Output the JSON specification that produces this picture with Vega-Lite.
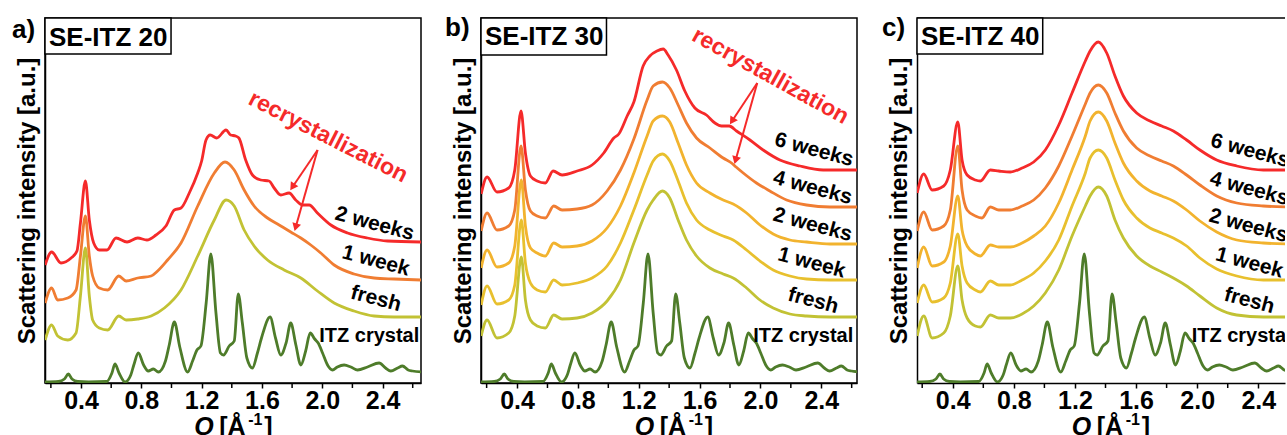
{
"$schema":"https://vega.github.io/schema/vega-lite/v6.json",
"background":"white",
"padding":{"left":11,"top":14,"right":0,"bottom":0},
"config":{
 "font":"Liberation Sans",
 "view":{"stroke":"#000","strokeWidth":1.5},
 "axis":{"domainColor":"#000","domainWidth":1.5,"grid":false,"tickColor":"#000","labelColor":"#000","titleColor":"#000","labelFont":"Liberation Sans","titleFont":"Liberation Sans","labelFontWeight":"bold","titleFontWeight":"bold"},
 "axisX":{"tickSize":5,"tickWidth":1.5,"labelFontSize":25,"labelPadding":0,"labelFlush":false,"labelOverlap":false},
 "axisY":{"ticks":false,"labels":false,"titleFontSize":24,"titlePadding":6},
 "text":{"font":"Liberation Sans","fontWeight":"bold","color":"#000"},
 "rule":{"color":"#000","strokeWidth":1.5}
},
"datasets":{
"X":[{"q":0.161,"v":1},{"q":0.25,"v":1.5},{"q":0.29,"v":4},{"q":0.316,"v":9},{"q":0.34,"v":4},{"q":0.378,"v":1.5},{"q":0.45,"v":1},{"q":0.57,"v":1.5},{"q":0.605,"v":10},{"q":0.625,"v":19},{"q":0.652,"v":10},{"q":0.692,"v":1},{"q":0.73,"v":8},{"q":0.75,"v":18},{"q":0.78,"v":30},{"q":0.815,"v":18},{"q":0.846,"v":12},{"q":0.88,"v":14},{"q":0.913,"v":11},{"q":0.96,"v":22},{"q":0.985,"v":38},{"q":1.019,"v":61},{"q":1.055,"v":36},{"q":1.107,"v":11},{"q":1.14,"v":22},{"q":1.169,"v":33},{"q":1.195,"v":37},{"q":1.23,"v":80},{"q":1.261,"v":129},{"q":1.295,"v":70},{"q":1.325,"v":30},{"q":1.345,"v":28},{"q":1.383,"v":37},{"q":1.416,"v":42},{"q":1.443,"v":89},{"q":1.47,"v":60},{"q":1.5,"v":25},{"q":1.537,"v":15},{"q":1.57,"v":30},{"q":1.597,"v":45},{"q":1.654,"v":66},{"q":1.69,"v":45},{"q":1.725,"v":28},{"q":1.76,"v":40},{"q":1.791,"v":60},{"q":1.825,"v":38},{"q":1.858,"v":18},{"q":1.89,"v":32},{"q":1.92,"v":50},{"q":1.95,"v":44},{"q":1.973,"v":40},{"q":2.002,"v":30},{"q":2.035,"v":18},{"q":2.068,"v":13},{"q":2.1,"v":16},{"q":2.145,"v":18},{"q":2.19,"v":16},{"q":2.234,"v":13},{"q":2.3,"v":16},{"q":2.377,"v":20},{"q":2.42,"v":15},{"q":2.455,"v":12},{"q":2.5,"v":15},{"q":2.532,"v":17},{"q":2.57,"v":13},{"q":2.598,"v":12},{"q":2.66,"v":11}],
"A":[
{"s":"f","q":0.162,"v":43},{"s":"f","q":0.205,"v":58},{"s":"f","q":0.245,"v":47},{"s":"f","q":0.312,"v":43},{"s":"f","q":0.367,"v":50},{"s":"f","q":0.396,"v":87},{"s":"f","q":0.429,"v":135},{"s":"f","q":0.455,"v":87},{"s":"f","q":0.477,"v":63},{"s":"f","q":0.521,"v":55},{"s":"f","q":0.577,"v":53},{"s":"f","q":0.65,"v":67},{"s":"f","q":0.699,"v":63},{"s":"f","q":0.776,"v":64},{"s":"f","q":0.865,"v":67},{"s":"f","q":0.953,"v":75},{"s":"f","q":1.063,"v":93},{"s":"f","q":1.174,"v":127},{"s":"f","q":1.284,"v":163},{"s":"f","q":1.362,"v":183},{"s":"f","q":1.416,"v":177},{"s":"f","q":1.482,"v":153},{"s":"f","q":1.548,"v":137},{"s":"f","q":1.637,"v":123},{"s":"f","q":1.747,"v":113},{"s":"f","q":1.858,"v":105},{"s":"f","q":1.968,"v":92},{"s":"f","q":2.079,"v":80},{"s":"f","q":2.211,"v":72},{"s":"f","q":2.344,"v":67},{"s":"f","q":2.477,"v":66},{"s":"f","q":2.655,"v":66},
{"s":"w1","q":0.162,"v":80},{"s":"w1","q":0.205,"v":95},{"s":"w1","q":0.245,"v":83},{"s":"w1","q":0.312,"v":85},{"s":"w1","q":0.367,"v":93},{"s":"w1","q":0.396,"v":127},{"s":"w1","q":0.429,"v":167},{"s":"w1","q":0.455,"v":127},{"s":"w1","q":0.477,"v":107},{"s":"w1","q":0.521,"v":95},{"s":"w1","q":0.577,"v":93},{"s":"w1","q":0.65,"v":107},{"s":"w1","q":0.699,"v":102},{"s":"w1","q":0.776,"v":105},{"s":"w1","q":0.865,"v":107},{"s":"w1","q":0.908,"v":112},{"s":"w1","q":0.974,"v":123},{"s":"w1","q":1.063,"v":140},{"s":"w1","q":1.174,"v":177},{"s":"w1","q":1.284,"v":210},{"s":"w1","q":1.355,"v":221},{"s":"w1","q":1.416,"v":213},{"s":"w1","q":1.482,"v":193},{"s":"w1","q":1.548,"v":177},{"s":"w1","q":1.637,"v":165},{"s":"w1","q":1.714,"v":158},{"s":"w1","q":1.791,"v":151},{"s":"w1","q":1.858,"v":145},{"s":"w1","q":1.924,"v":138},{"s":"w1","q":1.99,"v":130},{"s":"w1","q":2.079,"v":118},{"s":"w1","q":2.211,"v":109},{"s":"w1","q":2.344,"v":105},{"s":"w1","q":2.477,"v":104},{"s":"w1","q":2.655,"v":103},
{"s":"w2","q":0.162,"v":118},{"s":"w2","q":0.205,"v":131},{"s":"w2","q":0.267,"v":120},{"s":"w2","q":0.334,"v":125},{"s":"w2","q":0.373,"v":132},{"s":"w2","q":0.396,"v":160},{"s":"w2","q":0.429,"v":202},{"s":"w2","q":0.455,"v":163},{"s":"w2","q":0.484,"v":140},{"s":"w2","q":0.521,"v":133},{"s":"w2","q":0.572,"v":133},{"s":"w2","q":0.632,"v":145},{"s":"w2","q":0.705,"v":141},{"s":"w2","q":0.776,"v":145},{"s":"w2","q":0.837,"v":143},{"s":"w2","q":0.897,"v":148},{"s":"w2","q":0.963,"v":157},{"s":"w2","q":1.019,"v":173},{"s":"w2","q":1.063,"v":175},{"s":"w2","q":1.118,"v":190},{"s":"w2","q":1.174,"v":210},{"s":"w2","q":1.2,"v":222},{"s":"w2","q":1.229,"v":243},{"s":"w2","q":1.257,"v":248},{"s":"w2","q":1.3,"v":245},{"s":"w2","q":1.362,"v":253},{"s":"w2","q":1.392,"v":248},{"s":"w2","q":1.425,"v":247},{"s":"w2","q":1.447,"v":245},{"s":"w2","q":1.492,"v":223},{"s":"w2","q":1.537,"v":208},{"s":"w2","q":1.592,"v":203},{"s":"w2","q":1.647,"v":202},{"s":"w2","q":1.681,"v":195},{"s":"w2","q":1.725,"v":188},{"s":"w2","q":1.78,"v":190},{"s":"w2","q":1.824,"v":183},{"s":"w2","q":1.869,"v":178},{"s":"w2","q":1.913,"v":178},{"s":"w2","q":1.968,"v":170},{"s":"w2","q":2.057,"v":158},{"s":"w2","q":2.168,"v":150},{"s":"w2","q":2.3,"v":145},{"s":"w2","q":2.433,"v":142},{"s":"w2","q":2.655,"v":141}],
"B":[
{"s":"f","q":0.164,"v":47},{"s":"f","q":0.203,"v":63},{"s":"f","q":0.268,"v":45},{"s":"f","q":0.345,"v":50},{"s":"f","q":0.385,"v":67},{"s":"f","q":0.428,"v":126},{"s":"f","q":0.455,"v":83},{"s":"f","q":0.488,"v":63},{"s":"f","q":0.532,"v":57},{"s":"f","q":0.586,"v":55},{"s":"f","q":0.641,"v":68},{"s":"f","q":0.696,"v":64},{"s":"f","q":0.795,"v":65},{"s":"f","q":0.893,"v":70},{"s":"f","q":0.992,"v":82},{"s":"f","q":1.08,"v":103},{"s":"f","q":1.168,"v":140},{"s":"f","q":1.255,"v":173},{"s":"f","q":1.295,"v":183},{"s":"f","q":1.356,"v":192},{"s":"f","q":1.404,"v":185},{"s":"f","q":1.459,"v":163},{"s":"f","q":1.514,"v":143},{"s":"f","q":1.58,"v":127},{"s":"f","q":1.668,"v":115},{"s":"f","q":1.755,"v":109},{"s":"f","q":1.821,"v":105},{"s":"f","q":1.909,"v":95},{"s":"f","q":1.997,"v":83},{"s":"f","q":2.084,"v":75},{"s":"f","q":2.194,"v":69},{"s":"f","q":2.303,"v":67},{"s":"f","q":2.457,"v":66},{"s":"f","q":2.635,"v":66},
{"s":"w1","q":0.164,"v":78},{"s":"w1","q":0.203,"v":97},{"s":"w1","q":0.268,"v":79},{"s":"w1","q":0.345,"v":83},{"s":"w1","q":0.385,"v":98},{"s":"w1","q":0.428,"v":163},{"s":"w1","q":0.455,"v":120},{"s":"w1","q":0.488,"v":100},{"s":"w1","q":0.532,"v":93},{"s":"w1","q":0.586,"v":91},{"s":"w1","q":0.641,"v":103},{"s":"w1","q":0.696,"v":98},{"s":"w1","q":0.795,"v":100},{"s":"w1","q":0.893,"v":105},{"s":"w1","q":0.992,"v":117},{"s":"w1","q":1.08,"v":140},{"s":"w1","q":1.168,"v":173},{"s":"w1","q":1.255,"v":208},{"s":"w1","q":1.295,"v":222},{"s":"w1","q":1.356,"v":229},{"s":"w1","q":1.404,"v":222},{"s":"w1","q":1.459,"v":202},{"s":"w1","q":1.514,"v":180},{"s":"w1","q":1.58,"v":163},{"s":"w1","q":1.668,"v":153},{"s":"w1","q":1.755,"v":147},{"s":"w1","q":1.821,"v":143},{"s":"w1","q":1.909,"v":133},{"s":"w1","q":1.997,"v":122},{"s":"w1","q":2.084,"v":113},{"s":"w1","q":2.194,"v":107},{"s":"w1","q":2.303,"v":104},{"s":"w1","q":2.457,"v":103},{"s":"w1","q":2.635,"v":103},
{"s":"w2","q":0.164,"v":115},{"s":"w2","q":0.203,"v":133},{"s":"w2","q":0.268,"v":116},{"s":"w2","q":0.345,"v":120},{"s":"w2","q":0.385,"v":137},{"s":"w2","q":0.428,"v":203},{"s":"w2","q":0.455,"v":157},{"s":"w2","q":0.488,"v":135},{"s":"w2","q":0.532,"v":130},{"s":"w2","q":0.586,"v":127},{"s":"w2","q":0.641,"v":140},{"s":"w2","q":0.696,"v":136},{"s":"w2","q":0.795,"v":137},{"s":"w2","q":0.893,"v":142},{"s":"w2","q":0.992,"v":155},{"s":"w2","q":1.08,"v":177},{"s":"w2","q":1.168,"v":210},{"s":"w2","q":1.255,"v":247},{"s":"w2","q":1.295,"v":262},{"s":"w2","q":1.356,"v":267},{"s":"w2","q":1.404,"v":261},{"s":"w2","q":1.459,"v":240},{"s":"w2","q":1.514,"v":218},{"s":"w2","q":1.58,"v":200},{"s":"w2","q":1.668,"v":190},{"s":"w2","q":1.755,"v":183},{"s":"w2","q":1.821,"v":179},{"s":"w2","q":1.909,"v":170},{"s":"w2","q":1.997,"v":158},{"s":"w2","q":2.084,"v":149},{"s":"w2","q":2.194,"v":143},{"s":"w2","q":2.303,"v":141},{"s":"w2","q":2.457,"v":139},{"s":"w2","q":2.635,"v":139},
{"s":"w4","q":0.164,"v":152},{"s":"w4","q":0.203,"v":170},{"s":"w4","q":0.268,"v":153},{"s":"w4","q":0.345,"v":157},{"s":"w4","q":0.385,"v":173},{"s":"w4","q":0.426,"v":237},{"s":"w4","q":0.455,"v":193},{"s":"w4","q":0.488,"v":172},{"s":"w4","q":0.532,"v":167},{"s":"w4","q":0.586,"v":165},{"s":"w4","q":0.641,"v":177},{"s":"w4","q":0.696,"v":173},{"s":"w4","q":0.795,"v":174},{"s":"w4","q":0.893,"v":178},{"s":"w4","q":0.992,"v":192},{"s":"w4","q":1.08,"v":213},{"s":"w4","q":1.168,"v":244},{"s":"w4","q":1.255,"v":283},{"s":"w4","q":1.295,"v":297},{"s":"w4","q":1.356,"v":301},{"s":"w4","q":1.404,"v":295},{"s":"w4","q":1.459,"v":278},{"s":"w4","q":1.514,"v":260},{"s":"w4","q":1.58,"v":245},{"s":"w4","q":1.668,"v":235},{"s":"w4","q":1.755,"v":225},{"s":"w4","q":1.81,"v":220},{"s":"w4","q":1.84,"v":216},{"s":"w4","q":1.887,"v":210},{"s":"w4","q":1.974,"v":200},{"s":"w4","q":2.062,"v":192},{"s":"w4","q":2.172,"v":183},{"s":"w4","q":2.303,"v":178},{"s":"w4","q":2.457,"v":176},{"s":"w4","q":2.635,"v":176},
{"s":"w6","q":0.164,"v":189},{"s":"w6","q":0.203,"v":206},{"s":"w6","q":0.268,"v":191},{"s":"w6","q":0.345,"v":195},{"s":"w6","q":0.385,"v":213},{"s":"w6","q":0.426,"v":272},{"s":"w6","q":0.455,"v":230},{"s":"w6","q":0.488,"v":207},{"s":"w6","q":0.532,"v":202},{"s":"w6","q":0.586,"v":200},{"s":"w6","q":0.637,"v":212},{"s":"w6","q":0.696,"v":208},{"s":"w6","q":0.795,"v":212},{"s":"w6","q":0.893,"v":218},{"s":"w6","q":0.97,"v":230},{"s":"w6","q":1.036,"v":245},{"s":"w6","q":1.069,"v":249},{"s":"w6","q":1.124,"v":267},{"s":"w6","q":1.168,"v":281},{"s":"w6","q":1.229,"v":317},{"s":"w6","q":1.273,"v":327},{"s":"w6","q":1.32,"v":332},{"s":"w6","q":1.361,"v":334},{"s":"w6","q":1.393,"v":328},{"s":"w6","q":1.448,"v":313},{"s":"w6","q":1.503,"v":292},{"s":"w6","q":1.569,"v":275},{"s":"w6","q":1.645,"v":268},{"s":"w6","q":1.701,"v":260},{"s":"w6","q":1.744,"v":257},{"s":"w6","q":1.795,"v":257},{"s":"w6","q":1.843,"v":252},{"s":"w6","q":1.931,"v":243},{"s":"w6","q":2.018,"v":233},{"s":"w6","q":2.128,"v":223},{"s":"w6","q":2.26,"v":217},{"s":"w6","q":2.413,"v":213},{"s":"w6","q":2.635,"v":213}],
"C":[
{"s":"f","q":0.167,"v":47},{"s":"f","q":0.21,"v":67},{"s":"f","q":0.265,"v":45},{"s":"f","q":0.341,"v":50},{"s":"f","q":0.384,"v":67},{"s":"f","q":0.433,"v":117},{"s":"f","q":0.461,"v":83},{"s":"f","q":0.494,"v":65},{"s":"f","q":0.548,"v":57},{"s":"f","q":0.581,"v":56},{"s":"f","q":0.646,"v":68},{"s":"f","q":0.701,"v":65},{"s":"f","q":0.777,"v":65},{"s":"f","q":0.854,"v":69},{"s":"f","q":0.93,"v":77},{"s":"f","q":1.006,"v":90},{"s":"f","q":1.094,"v":113},{"s":"f","q":1.181,"v":147},{"s":"f","q":1.268,"v":177},{"s":"f","q":1.299,"v":187},{"s":"f","q":1.353,"v":196},{"s":"f","q":1.408,"v":187},{"s":"f","q":1.462,"v":163},{"s":"f","q":1.517,"v":145},{"s":"f","q":1.604,"v":127},{"s":"f","q":1.691,"v":117},{"s":"f","q":1.768,"v":111},{"s":"f","q":1.844,"v":105},{"s":"f","q":1.931,"v":97},{"s":"f","q":2.018,"v":87},{"s":"f","q":2.128,"v":75},{"s":"f","q":2.259,"v":68},{"s":"f","q":2.433,"v":66},{"s":"f","q":2.6,"v":66},
{"s":"w1","q":0.167,"v":80},{"s":"w1","q":0.21,"v":98},{"s":"w1","q":0.265,"v":81},{"s":"w1","q":0.341,"v":85},{"s":"w1","q":0.384,"v":100},{"s":"w1","q":0.433,"v":149},{"s":"w1","q":0.461,"v":117},{"s":"w1","q":0.494,"v":100},{"s":"w1","q":0.548,"v":93},{"s":"w1","q":0.581,"v":91},{"s":"w1","q":0.646,"v":102},{"s":"w1","q":0.701,"v":98},{"s":"w1","q":0.777,"v":98},{"s":"w1","q":0.854,"v":103},{"s":"w1","q":0.93,"v":110},{"s":"w1","q":1.006,"v":122},{"s":"w1","q":1.094,"v":143},{"s":"w1","q":1.181,"v":177},{"s":"w1","q":1.268,"v":210},{"s":"w1","q":1.299,"v":225},{"s":"w1","q":1.353,"v":233},{"s":"w1","q":1.408,"v":225},{"s":"w1","q":1.462,"v":203},{"s":"w1","q":1.517,"v":183},{"s":"w1","q":1.604,"v":165},{"s":"w1","q":1.691,"v":155},{"s":"w1","q":1.768,"v":150},{"s":"w1","q":1.844,"v":145},{"s":"w1","q":1.931,"v":137},{"s":"w1","q":2.018,"v":125},{"s":"w1","q":2.128,"v":114},{"s":"w1","q":2.259,"v":107},{"s":"w1","q":2.433,"v":103},{"s":"w1","q":2.6,"v":103},
{"s":"w2","q":0.167,"v":115},{"s":"w2","q":0.21,"v":136},{"s":"w2","q":0.265,"v":117},{"s":"w2","q":0.341,"v":121},{"s":"w2","q":0.384,"v":137},{"s":"w2","q":0.433,"v":187},{"s":"w2","q":0.461,"v":153},{"s":"w2","q":0.494,"v":137},{"s":"w2","q":0.548,"v":129},{"s":"w2","q":0.581,"v":127},{"s":"w2","q":0.646,"v":138},{"s":"w2","q":0.701,"v":136},{"s":"w2","q":0.777,"v":136},{"s":"w2","q":0.854,"v":140},{"s":"w2","q":0.93,"v":147},{"s":"w2","q":1.006,"v":157},{"s":"w2","q":1.094,"v":180},{"s":"w2","q":1.181,"v":213},{"s":"w2","q":1.268,"v":247},{"s":"w2","q":1.299,"v":262},{"s":"w2","q":1.353,"v":271},{"s":"w2","q":1.408,"v":262},{"s":"w2","q":1.462,"v":240},{"s":"w2","q":1.517,"v":220},{"s":"w2","q":1.604,"v":202},{"s":"w2","q":1.691,"v":192},{"s":"w2","q":1.768,"v":187},{"s":"w2","q":1.844,"v":182},{"s":"w2","q":1.931,"v":173},{"s":"w2","q":2.018,"v":162},{"s":"w2","q":2.128,"v":151},{"s":"w2","q":2.259,"v":143},{"s":"w2","q":2.433,"v":140},{"s":"w2","q":2.6,"v":139},
{"s":"w4","q":0.167,"v":152},{"s":"w4","q":0.21,"v":171},{"s":"w4","q":0.265,"v":153},{"s":"w4","q":0.341,"v":157},{"s":"w4","q":0.384,"v":173},{"s":"w4","q":0.433,"v":237},{"s":"w4","q":0.461,"v":193},{"s":"w4","q":0.494,"v":173},{"s":"w4","q":0.548,"v":167},{"s":"w4","q":0.591,"v":165},{"s":"w4","q":0.646,"v":176},{"s":"w4","q":0.701,"v":173},{"s":"w4","q":0.777,"v":173},{"s":"w4","q":0.854,"v":177},{"s":"w4","q":0.93,"v":183},{"s":"w4","q":1.006,"v":195},{"s":"w4","q":1.094,"v":217},{"s":"w4","q":1.181,"v":247},{"s":"w4","q":1.268,"v":279},{"s":"w4","q":1.299,"v":290},{"s":"w4","q":1.353,"v":298},{"s":"w4","q":1.408,"v":290},{"s":"w4","q":1.462,"v":270},{"s":"w4","q":1.517,"v":252},{"s":"w4","q":1.604,"v":235},{"s":"w4","q":1.691,"v":227},{"s":"w4","q":1.768,"v":222},{"s":"w4","q":1.844,"v":217},{"s":"w4","q":1.931,"v":208},{"s":"w4","q":2.018,"v":198},{"s":"w4","q":2.128,"v":187},{"s":"w4","q":2.259,"v":180},{"s":"w4","q":2.433,"v":177},{"s":"w4","q":2.6,"v":176},
{"s":"w6","q":0.167,"v":190},{"s":"w6","q":0.21,"v":209},{"s":"w6","q":0.265,"v":193},{"s":"w6","q":0.341,"v":197},{"s":"w6","q":0.384,"v":213},{"s":"w6","q":0.433,"v":261},{"s":"w6","q":0.461,"v":223},{"s":"w6","q":0.494,"v":208},{"s":"w6","q":0.548,"v":203},{"s":"w6","q":0.581,"v":202},{"s":"w6","q":0.646,"v":213},{"s":"w6","q":0.701,"v":212},{"s":"w6","q":0.777,"v":211},{"s":"w6","q":0.854,"v":215},{"s":"w6","q":0.93,"v":221},{"s":"w6","q":1.006,"v":233},{"s":"w6","q":1.094,"v":258},{"s":"w6","q":1.181,"v":290},{"s":"w6","q":1.268,"v":322},{"s":"w6","q":1.299,"v":332},{"s":"w6","q":1.353,"v":341},{"s":"w6","q":1.408,"v":330},{"s":"w6","q":1.462,"v":307},{"s":"w6","q":1.517,"v":287},{"s":"w6","q":1.604,"v":270},{"s":"w6","q":1.691,"v":262},{"s":"w6","q":1.768,"v":257},{"s":"w6","q":1.844,"v":252},{"s":"w6","q":1.931,"v":243},{"s":"w6","q":2.018,"v":233},{"s":"w6","q":2.128,"v":223},{"s":"w6","q":2.259,"v":217},{"s":"w6","q":2.433,"v":213},{"s":"w6","q":2.6,"v":213}],
"LA":[{"t":"2 weeks","q":2.347,"v":159},{"t":"1 week","q":2.356,"v":122},{"t":"fresh","q":2.356,"v":84}],
"LB":[{"t":"6 weeks","q":2.352,"v":233},{"t":"4 weeks","q":2.343,"v":195},{"t":"2 weeks","q":2.343,"v":158},{"t":"1 week","q":2.336,"v":120},{"t":"fresh","q":2.347,"v":82}],
"LC":[{"t":"6 weeks","q":2.346,"v":232},{"t":"4 weeks","q":2.341,"v":194},{"t":"2 weeks","q":2.335,"v":157},{"t":"1 week","q":2.341,"v":120},{"t":"fresh","q":2.341,"v":82}]
},
"spacing":60,
"bounds":"flush",
"resolve":{"scale":{"color":"independent","x":"independent","y":"independent"}},
"hconcat":[
{"width":376,"height":365,"data":{"values":[{}]},
 "layer":[
  {"data":{"name":"X"},"mark":{"type":"line","color":"#4e7c2a","strokeWidth":2.8,"interpolate":"monotone","clip":true},
   "encoding":{"x":{"field":"q","type":"quantitative","scale":{"domain":[0.161,2.655],"nice":false,"zero":false},"axis":{"title":null,"values":[0.4,0.8,1.2,1.6,2,2.4],"format":".1f"}},
   "y":{"field":"v","type":"quantitative","scale":{"domain":[0,365],"nice":false,"zero":false},"axis":{"title":"Scattering intensity [a.u.]"}}}},
  {"data":{"name":"A"},"mark":{"type":"line","strokeWidth":2.8,"interpolate":"monotone","clip":true},
   "encoding":{"x":{"field":"q","type":"quantitative"},"y":{"field":"v","type":"quantitative"},
   "color":{"field":"s","type":"nominal","scale":{"domain":["f","w1","w2"],"range":["#c2c234","#f07d32","#f52a2a"]},"legend":null}}},
  {"data":{"name":"LA"},"mark":{"type":"text","angle":15,"fontSize":21,"align":"center","baseline":"middle"},
   "encoding":{"x":{"field":"q","type":"quantitative"},"y":{"field":"v","type":"quantitative"},"text":{"field":"t"}}},
  {"mark":{"type":"text","text":"ITZ crystal","fontSize":20,"align":"left","baseline":"middle"},"encoding":{"x":{"datum":1.98},"y":{"datum":47}}},
  {"mark":{"type":"text","text":"recrystallization","fontSize":23,"angle":27,"align":"center","baseline":"middle","color":"#f52a2a"},"encoding":{"x":{"datum":2.039},"y":{"datum":246}}},
  {"mark":{"type":"rule","color":"#f52a2a","strokeWidth":2},"encoding":{"x":{"datum":1.969},"y":{"datum":233},"x2":{"datum":1.807},"y2":{"datum":197}}},
  {"mark":{"type":"rule","color":"#f52a2a","strokeWidth":2},"encoding":{"x":{"datum":1.969},"y":{"datum":233},"x2":{"datum":1.826},"y2":{"datum":157}}},
  {"mark":{"type":"point","shape":"triangle","filled":true,"opacity":1,"size":80,"angle":214,"color":"#f52a2a"},"encoding":{"x":{"datum":1.807},"y":{"datum":197}}},
  {"mark":{"type":"point","shape":"triangle","filled":true,"opacity":1,"size":80,"angle":196,"color":"#f52a2a"},"encoding":{"x":{"datum":1.826},"y":{"datum":157}}},
  {"mark":{"type":"rect","fill":"white","stroke":"#000","strokeWidth":1.5},"encoding":{"x":{"datum":0.161},"x2":{"datum":0.997},"y":{"datum":365},"y2":{"datum":329}}},
  {"mark":{"type":"text","text":"SE-ITZ 20","fontSize":26,"align":"left","baseline":"alphabetic","dx":4},"encoding":{"x":{"datum":0.161},"y":{"datum":337}}},
  {"mark":{"type":"text","text":"a)","fontSize":26,"align":"left","baseline":"alphabetic","dx":-33},"encoding":{"x":{"datum":0.161},"y":{"datum":345}}},
  {"mark":"rule","encoding":{"x":{"datum":0.2},"y":{"datum":0},"y2":{"datum":-5}}},
  {"mark":"rule","encoding":{"x":{"datum":0.6},"y":{"datum":0},"y2":{"datum":-5}}},
  {"mark":"rule","encoding":{"x":{"datum":1.0},"y":{"datum":0},"y2":{"datum":-5}}},
  {"mark":"rule","encoding":{"x":{"datum":1.4},"y":{"datum":0},"y2":{"datum":-5}}},
  {"mark":"rule","encoding":{"x":{"datum":1.8},"y":{"datum":0},"y2":{"datum":-5}}},
  {"mark":"rule","encoding":{"x":{"datum":2.2},"y":{"datum":0},"y2":{"datum":-5}}},
  {"mark":"rule","encoding":{"x":{"datum":2.6},"y":{"datum":0},"y2":{"datum":-5}}},
  {"mark":{"type":"text","text":"Q","fontSize":25,"fontStyle":"italic","align":"left","baseline":"alphabetic"},"encoding":{"x":{"datum":1.151},"y":{"datum":-52}}},
  {"mark":{"type":"text","text":"[Å","fontSize":25,"align":"left","baseline":"alphabetic","dx":25},"encoding":{"x":{"datum":1.151},"y":{"datum":-52}}},
  {"mark":{"type":"text","text":"-1","fontSize":16,"align":"left","baseline":"alphabetic","dx":54,"dy":-10},"encoding":{"x":{"datum":1.151},"y":{"datum":-52}}},
  {"mark":{"type":"text","text":"]","fontSize":25,"align":"left","baseline":"alphabetic","dx":70},"encoding":{"x":{"datum":1.151},"y":{"datum":-52}}}
 ]},
{"width":376,"height":365,"data":{"values":[{}]},
 "layer":[
  {"data":{"name":"X"},"mark":{"type":"line","color":"#4e7c2a","strokeWidth":2.8,"interpolate":"monotone","clip":true},
   "encoding":{"x":{"field":"q","type":"quantitative","scale":{"domain":[0.163,2.635],"nice":false,"zero":false},"axis":{"title":null,"values":[0.4,0.8,1.2,1.6,2,2.4],"format":".1f"}},
   "y":{"field":"v","type":"quantitative","scale":{"domain":[0,365],"nice":false,"zero":false},"axis":{"title":"Scattering intensity [a.u.]"}}}},
  {"data":{"name":"B"},"mark":{"type":"line","strokeWidth":2.8,"interpolate":"monotone","clip":true},
   "encoding":{"x":{"field":"q","type":"quantitative"},"y":{"field":"v","type":"quantitative"},
   "color":{"field":"s","type":"nominal","scale":{"domain":["f","w1","w2","w4","w6"],"range":["#c2c234","#e8c02e","#f2b32e","#f07d32","#f52a2a"]},"legend":null}}},
  {"data":{"name":"LB"},"mark":{"type":"text","angle":15,"fontSize":21,"align":"center","baseline":"middle"},
   "encoding":{"x":{"field":"q","type":"quantitative"},"y":{"field":"v","type":"quantitative"},"text":{"field":"t"}}},
  {"mark":{"type":"text","text":"ITZ crystal","fontSize":20,"align":"left","baseline":"middle"},"encoding":{"x":{"datum":1.953},"y":{"datum":47}}},
  {"mark":{"type":"text","text":"recrystallization","fontSize":23,"angle":29,"align":"center","baseline":"middle","color":"#f52a2a"},"encoding":{"x":{"datum":2.066},"y":{"datum":307}}},
  {"mark":{"type":"rule","color":"#f52a2a","strokeWidth":2},"encoding":{"x":{"datum":1.979},"y":{"datum":300},"x2":{"datum":1.818},"y2":{"datum":263}}},
  {"mark":{"type":"rule","color":"#f52a2a","strokeWidth":2},"encoding":{"x":{"datum":1.979},"y":{"datum":300},"x2":{"datum":1.839},"y2":{"datum":224}}},
  {"mark":{"type":"point","shape":"triangle","filled":true,"opacity":1,"size":80,"angle":213,"color":"#f52a2a"},"encoding":{"x":{"datum":1.818},"y":{"datum":263}}},
  {"mark":{"type":"point","shape":"triangle","filled":true,"opacity":1,"size":80,"angle":196,"color":"#f52a2a"},"encoding":{"x":{"datum":1.839},"y":{"datum":224}}},
  {"mark":{"type":"rect","fill":"white","stroke":"#000","strokeWidth":1.5},"encoding":{"x":{"datum":0.163},"x2":{"datum":0.988},"y":{"datum":365},"y2":{"datum":328}}},
  {"mark":{"type":"text","text":"SE-ITZ 30","fontSize":26,"align":"left","baseline":"alphabetic","dx":4},"encoding":{"x":{"datum":0.163},"y":{"datum":338}}},
  {"mark":{"type":"text","text":"b)","fontSize":26,"align":"left","baseline":"alphabetic","dx":-36},"encoding":{"x":{"datum":0.163},"y":{"datum":347}}},
  {"mark":"rule","encoding":{"x":{"datum":0.2},"y":{"datum":0},"y2":{"datum":-5}}},
  {"mark":"rule","encoding":{"x":{"datum":0.6},"y":{"datum":0},"y2":{"datum":-5}}},
  {"mark":"rule","encoding":{"x":{"datum":1.0},"y":{"datum":0},"y2":{"datum":-5}}},
  {"mark":"rule","encoding":{"x":{"datum":1.4},"y":{"datum":0},"y2":{"datum":-5}}},
  {"mark":"rule","encoding":{"x":{"datum":1.8},"y":{"datum":0},"y2":{"datum":-5}}},
  {"mark":"rule","encoding":{"x":{"datum":2.2},"y":{"datum":0},"y2":{"datum":-5}}},
  {"mark":"rule","encoding":{"x":{"datum":2.6},"y":{"datum":0},"y2":{"datum":-5}}},
  {"mark":{"type":"text","text":"Q","fontSize":25,"fontStyle":"italic","align":"left","baseline":"alphabetic"},"encoding":{"x":{"datum":1.174},"y":{"datum":-52}}},
  {"mark":{"type":"text","text":"[Å","fontSize":25,"align":"left","baseline":"alphabetic","dx":25},"encoding":{"x":{"datum":1.174},"y":{"datum":-52}}},
  {"mark":{"type":"text","text":"-1","fontSize":16,"align":"left","baseline":"alphabetic","dx":54,"dy":-10},"encoding":{"x":{"datum":1.174},"y":{"datum":-52}}},
  {"mark":{"type":"text","text":"]","fontSize":25,"align":"left","baseline":"alphabetic","dx":70},"encoding":{"x":{"datum":1.174},"y":{"datum":-52}}}
 ]},
{"width":368,"height":365,"data":{"values":[{}]},"view":{"stroke":null},
 "layer":[
  {"data":{"name":"X"},"mark":{"type":"line","color":"#4e7c2a","strokeWidth":2.8,"interpolate":"monotone","clip":true},
   "encoding":{"x":{"field":"q","type":"quantitative","scale":{"domain":[0.166,2.575],"nice":false,"zero":false},"axis":{"title":null,"values":[0.4,0.8,1.2,1.6,2,2.4],"format":".1f"}},
   "y":{"field":"v","type":"quantitative","scale":{"domain":[0,365],"nice":false,"zero":false},"axis":{"title":"Scattering intensity [a.u.]"}}}},
  {"data":{"name":"C"},"mark":{"type":"line","strokeWidth":2.8,"interpolate":"monotone","clip":true},
   "encoding":{"x":{"field":"q","type":"quantitative"},"y":{"field":"v","type":"quantitative"},
   "color":{"field":"s","type":"nominal","scale":{"domain":["f","w1","w2","w4","w6"],"range":["#c2c234","#e8c02e","#f2b32e","#f07d32","#f52a2a"]},"legend":null}}},
  {"data":{"name":"LC"},"mark":{"type":"text","angle":15,"fontSize":21,"align":"center","baseline":"middle","clip":true},
   "encoding":{"x":{"field":"q","type":"quantitative"},"y":{"field":"v","type":"quantitative"},"text":{"field":"t"}}},
  {"mark":{"type":"text","text":"ITZ crystal","fontSize":20,"align":"left","baseline":"middle","clip":true},"encoding":{"x":{"datum":1.964},"y":{"datum":47}}},
  {"mark":{"type":"rule","color":"#000","strokeWidth":1.5},"encoding":{"y":{"datum":365}}},
  {"mark":{"type":"rect","fill":"white","stroke":"#000","strokeWidth":1.5},"encoding":{"x":{"datum":0.166},"x2":{"datum":0.989},"y":{"datum":365},"y2":{"datum":329}}},
  {"mark":{"type":"text","text":"SE-ITZ 40","fontSize":26,"align":"left","baseline":"alphabetic","dx":4},"encoding":{"x":{"datum":0.166},"y":{"datum":338}}},
  {"mark":{"type":"text","text":"c)","fontSize":26,"align":"left","baseline":"alphabetic","dx":-35},"encoding":{"x":{"datum":0.166},"y":{"datum":347}}},
  {"mark":"rule","encoding":{"x":{"datum":0.2},"y":{"datum":0},"y2":{"datum":-5}}},
  {"mark":"rule","encoding":{"x":{"datum":0.6},"y":{"datum":0},"y2":{"datum":-5}}},
  {"mark":"rule","encoding":{"x":{"datum":1.0},"y":{"datum":0},"y2":{"datum":-5}}},
  {"mark":"rule","encoding":{"x":{"datum":1.4},"y":{"datum":0},"y2":{"datum":-5}}},
  {"mark":"rule","encoding":{"x":{"datum":1.8},"y":{"datum":0},"y2":{"datum":-5}}},
  {"mark":"rule","encoding":{"x":{"datum":2.2},"y":{"datum":0},"y2":{"datum":-5}}},
  {"mark":{"type":"text","text":"Q","fontSize":25,"fontStyle":"italic","align":"left","baseline":"alphabetic"},"encoding":{"x":{"datum":1.179},"y":{"datum":-52}}},
  {"mark":{"type":"text","text":"[Å","fontSize":25,"align":"left","baseline":"alphabetic","dx":25},"encoding":{"x":{"datum":1.179},"y":{"datum":-52}}},
  {"mark":{"type":"text","text":"-1","fontSize":16,"align":"left","baseline":"alphabetic","dx":54,"dy":-10},"encoding":{"x":{"datum":1.179},"y":{"datum":-52}}},
  {"mark":{"type":"text","text":"]","fontSize":25,"align":"left","baseline":"alphabetic","dx":70},"encoding":{"x":{"datum":1.179},"y":{"datum":-52}}}
 ]}
]
}
